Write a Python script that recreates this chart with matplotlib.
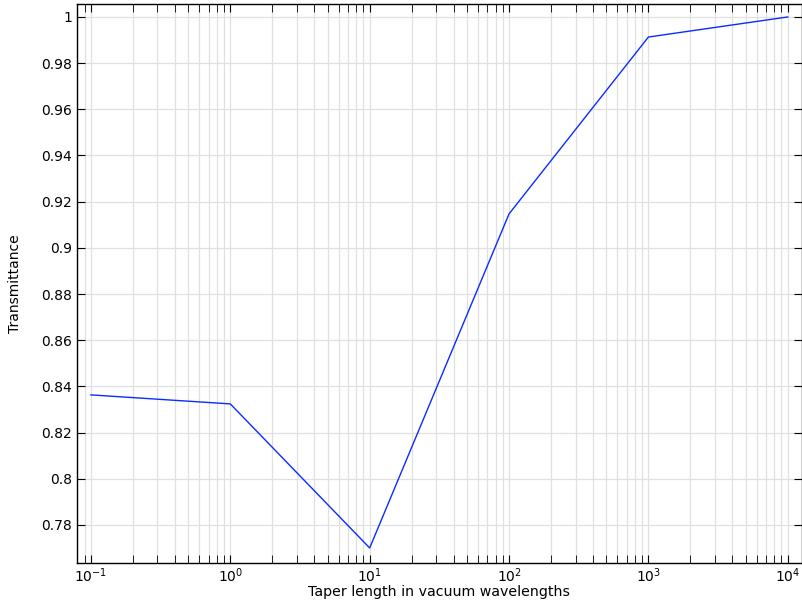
import numpy as np
import matplotlib
matplotlib.use("Agg")
import matplotlib.pyplot as plt
from matplotlib.ticker import LogLocator, FuncFormatter, MultipleLocator, NullFormatter

# Taper length (vacuum wavelengths) vs transmittance
taper_length = [0.1, 1, 10, 100, 1000, 10000]
transmittance = [0.8363, 0.8324, 0.7700, 0.9147, 0.9913, 1.0000]

fig = plt.figure(figsize=(8.03, 6.0), dpi=100)
ax = fig.add_axes([0.0959, 0.0617, 0.9025, 0.9316])

ax.plot(taper_length, transmittance, color="#0a2cff", linewidth=1.0)

ax.set_xscale("log")
ax.set_xlim(10 ** -1.1, 10 ** 4.1)
ax.set_ylim(0.7635, 1.0056)

ax.xaxis.set_major_locator(LogLocator(base=10, numticks=20))
ax.xaxis.set_minor_locator(LogLocator(base=10, subs=np.arange(2, 10), numticks=20))
ax.xaxis.set_minor_formatter(NullFormatter())
ax.yaxis.set_major_locator(MultipleLocator(0.02))
ax.yaxis.set_major_formatter(FuncFormatter(lambda v, p: "%g" % round(v, 4)))

ax.grid(True, which="major", color="#e0e0e0", linewidth=0.9)
ax.grid(True, which="minor", axis="x", color="#e0e0e0", linewidth=0.9)
ax.set_axisbelow(True)

ax.tick_params(which="both", direction="in", top=True, right=True,
               labelsize=10, color="black")
ax.tick_params(which="major", length=6)
ax.tick_params(which="minor", length=6)
ax.tick_params(axis="x", which="major", pad=2.5)

for s in ax.spines.values():
    s.set_linewidth(1.0)

ax.set_xlabel("Taper length in vacuum wavelengths", fontsize=10.2, labelpad=0)
ax.set_ylabel("Transmittance", fontsize=10, labelpad=14)

fig.savefig("out.png", dpi=100)
